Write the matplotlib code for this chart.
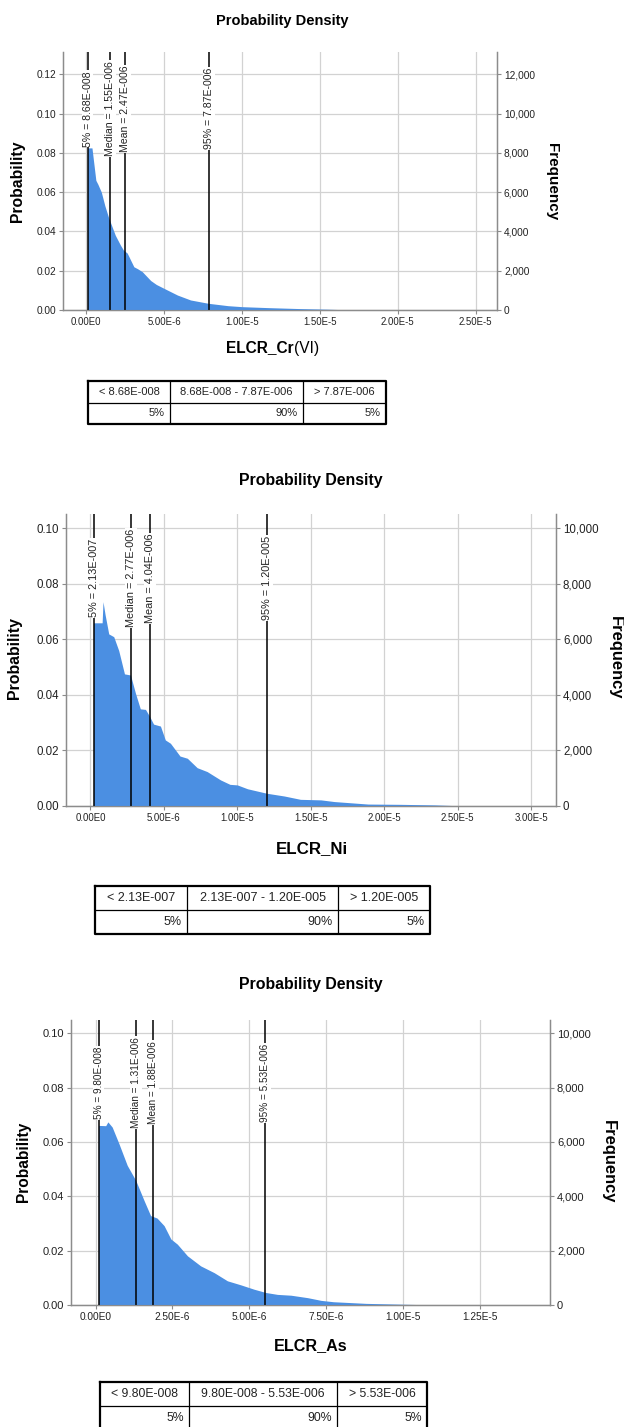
import numpy as np
import matplotlib
matplotlib.use("Agg")
import matplotlib.pyplot as plt
from matplotlib.transforms import blended_transform_factory

plt.rcParams["font.family"] = ["Liberation Sans", "DejaVu Sans"]

W, H = 624, 1427

# ── Data (x in units of 1e-6, probability) ───────────────────────────────────
cr_x = [0.0868, 0.37, 0.62, 0.75, 0.97, 1.2, 1.44, 1.87, 2.2, 2.39, 2.63, 3.06,
        3.3, 3.6, 4.14, 4.5, 5.0, 5.86, 6.7, 7.85, 9.1, 10.0, 11.7, 13.8, 15.5, 17.2]
cr_p = [0.0825, 0.0825, 0.066, 0.064, 0.060, 0.053, 0.047, 0.038, 0.033, 0.0305,
        0.029, 0.022, 0.021, 0.0195, 0.015, 0.013, 0.011, 0.0076, 0.0051, 0.0034,
        0.0022, 0.0017, 0.0012, 0.0007, 0.0004, 0.0]

ni_x = [0.213, 0.80, 0.86, 1.0, 1.25, 1.59, 1.93, 2.32, 2.73, 3.07, 3.4, 3.75, 4.02,
        4.3, 4.77, 5.1, 5.45, 6.1, 6.6, 7.27, 7.95, 8.86, 9.5, 10.0, 10.7, 12.0,
        13.2, 14.3, 15.7, 16.6, 18.9, 21.1, 23.4, 25.0, 25.5]
ni_p = [0.066, 0.066, 0.0736, 0.069, 0.062, 0.061, 0.056, 0.0476, 0.0472, 0.0406,
        0.035, 0.0348, 0.0324, 0.0295, 0.0288, 0.0238, 0.0226, 0.018, 0.0172, 0.0138,
        0.0124, 0.0094, 0.0078, 0.0076, 0.0062, 0.0046, 0.0036, 0.0024, 0.0022,
        0.0016, 0.0007, 0.0006, 0.0004, 0.0001, 0.0]

as_x = [0.098, 0.33, 0.40, 0.54, 0.76, 1.03, 1.31, 1.58, 1.79, 2.0, 2.23, 2.45, 2.66,
        2.99, 3.42, 3.86, 4.29, 4.73, 5.16, 5.54, 5.92, 6.36, 6.9, 7.34, 7.74, 8.8,
        9.9, 11.2]
as_p = [0.0661, 0.066, 0.0674, 0.0655, 0.0594, 0.0514, 0.0458, 0.0384, 0.0329, 0.032,
        0.0292, 0.0243, 0.0224, 0.0181, 0.0144, 0.0119, 0.0089, 0.0074, 0.0058,
        0.0046, 0.0039, 0.0036, 0.0027, 0.0017, 0.0012, 0.0006, 0.0003, 0.0]

# marker values (x 1e-6): 5%, median, mean, 95%
cr_marks = [0.0868, 1.55, 2.47, 7.87]
ni_marks = [0.213, 2.77, 4.04, 12.0]
as_marks = [0.098, 1.31, 1.88, 5.53]
cr_mark_labels = ["5% = 8.68E-008", "Median = 1.55E-006", "Mean = 2.47E-006", "95% = 7.87E-006"]
ni_mark_labels = ["5% = 2.13E-007", "Median = 2.77E-006", "Mean = 4.04E-006", "95% = 1.20E-005"]
as_mark_labels = ["5% = 9.80E-008", "Median = 1.31E-006", "Mean = 1.88E-006", "95% = 5.53E-006"]

cr_xticks = [0, 5, 10, 15, 20, 25]
ni_xticks = [0, 5, 10, 15, 20, 25, 30]
as_xticks = [0, 2.5, 5, 7.5, 10, 12.5]
cr_xticklabels = ["0.00E0", "5.00E-6", "1.00E-5", "1.50E-5", "2.00E-5", "2.50E-5"]
ni_xticklabels = ["0.00E0", "5.00E-6", "1.00E-5", "1.50E-5", "2.00E-5", "2.50E-5", "3.00E-5"]
as_xticklabels = ["0.00E0", "2.50E-6", "5.00E-6", "7.50E-6", "1.00E-5", "1.25E-5"]

cr_table = [["< 8.68E-008", "8.68E-008 - 7.87E-006", "> 7.87E-006"], ["5%", "90%", "5%"]]
ni_table = [["< 2.13E-007", "2.13E-007 - 1.20E-005", "> 1.20E-005"], ["5%", "90%", "5%"]]
as_table = [["< 9.80E-008", "9.80E-008 - 5.53E-006", "> 5.53E-006"], ["5%", "90%", "5%"]]

TRIALS = 100000   # frequency = probability * trials

# ── Style ─────────────────────────────────────────────────────────────────────
C_FILL = "#4b8fe2"
C_GRID = "#d2d2d2"
C_SPINE = "#8c8c8c"
C_TEXT = "#222222"


def px_axes(fig, l, t, r, b):
    return fig.add_axes([l / W, 1 - b / H, (r - l) / W, (b - t) / H])


def draw_panel(fig, box, xs, ps, xlim, ymax, xticks, xticklabels, marks, mark_labels,
               xfs=6.8, yfs=7.5, mfs=7.5):
    l, t, r, b = box
    ax = px_axes(fig, l, t, r, b)
    ax.fill_between(xs, ps, 0, color=C_FILL, lw=0, zorder=3)
    ax.set_xlim(*xlim)
    ax.set_ylim(0, ymax)
    ax.set_xticks(xticks)
    ax.set_xticklabels(xticklabels)
    yt = np.arange(0, ymax + 1e-9, 0.02)
    ax.set_yticks(yt)
    ax.set_yticklabels([f"{v:.2f}" for v in yt])
    ax.grid(True, color=C_GRID, lw=0.9, zorder=0)
    ax.set_axisbelow(True)
    ax.spines["top"].set_visible(False)
    for s in ["left", "right", "bottom"]:
        ax.spines[s].set_color(C_SPINE)
        ax.spines[s].set_linewidth(1.0)
    ax.tick_params(length=3, color=C_SPINE, pad=2, labelcolor=C_TEXT)
    ax.tick_params(axis="x", labelsize=xfs)
    ax.tick_params(axis="y", labelsize=yfs)

    trans = blended_transform_factory(ax.transData, ax.transAxes)
    for xv, lab in zip(marks, mark_labels):
        ax.axvline(xv, color="black", lw=1.1, zorder=5)
        ax.text(xv, 0.78, lab, rotation=90, transform=trans, ha="center", va="center",
                fontsize=mfs, zorder=6, color=C_TEXT,
                bbox=dict(facecolor="white", edgecolor="none", pad=0.6))

    ax2 = ax.twinx()
    ax2.set_ylim(0, ymax * TRIALS)
    ft = np.arange(0, ymax * TRIALS + 1, 2000)
    ax2.set_yticks(ft)
    ax2.set_yticklabels([f"{int(v):,}" for v in ft])
    ax2.tick_params(length=3, color=C_SPINE, labelsize=yfs, pad=2, labelcolor=C_TEXT)
    ax2.spines["top"].set_visible(False)
    for s in ["left", "right", "bottom"]:
        ax2.spines[s].set_color(C_SPINE)
    return ax


def draw_table(fig, box, cells, col_edges, fs=8):
    l, t, r, b = box
    ax = px_axes(fig, l, t, r, b)
    ax.set_xlim(l, r)
    ax.set_ylim(b, t)
    ax.axis("off")
    mid = (t + b) / 2
    ax.plot([l, r, r, l, l], [t, t, b, b, t], color="black", lw=1.6, clip_on=False)
    ax.plot([l, r], [mid, mid], color="black", lw=0.9)
    edges = [l] + col_edges + [r]
    for xe in col_edges:
        ax.plot([xe, xe], [t, b], color="black", lw=0.9)
    for i in range(3):
        x0, x1 = edges[i], edges[i + 1]
        ax.text((x0 + x1) / 2, (t + mid) / 2, cells[0][i], ha="center", va="center",
                fontsize=fs, color=C_TEXT)
        ax.text(x1 - 5, (mid + b) / 2, cells[1][i], ha="right", va="center",
                fontsize=fs, color=C_TEXT)


fig = plt.figure(figsize=(W / 100, H / 100), dpi=100)
fig.patch.set_facecolor("white")

# ── Panel 1: Cr(VI) ───────────────────────────────────────────────────────────
fig.text(282 / W, 1 - 21 / H, "Probability Density", ha="center", va="center",
         fontsize=10.5, fontweight="bold")
draw_panel(fig, (63, 52, 497, 310), cr_x, cr_p, (-1.49, 26.38), 0.1313,
           cr_xticks, cr_xticklabels, cr_marks, cr_mark_labels,
           xfs=6.9, yfs=7.3, mfs=7.6)
fig.text(18 / W, 1 - 181 / H, "Probability", rotation=90, ha="center", va="center",
         fontsize=11.3, fontweight="bold")
fig.text(552 / W, 1 - 182 / H, "Frequency", rotation=-90, ha="center", va="center",
         fontsize=11, fontweight="bold")
fig.text(294 / W, 1 - 348 / H, "ELCR_Cr", ha="right", va="center",
         fontsize=11.2, fontweight="bold")
fig.text(294 / W, 1 - 348 / H, "(VI)", ha="left", va="center", fontsize=11.2)
draw_table(fig, (88, 381, 386, 424), cr_table, [170, 303], fs=8)

# ── Panel 2: Ni ───────────────────────────────────────────────────────────────
fig.text(311 / W, 1 - 481 / H, "Probability Density", ha="center", va="center",
         fontsize=11.4, fontweight="bold")
draw_panel(fig, (66, 514, 556, 806), ni_x, ni_p, (-1.66, 31.7), 0.1052,
           ni_xticks, ni_xticklabels, ni_marks, ni_mark_labels,
           xfs=6.9, yfs=8.3, mfs=7.8)
fig.text(15 / W, 1 - 658 / H, "Probability", rotation=90, ha="center", va="center",
         fontsize=11.4, fontweight="bold")
fig.text(615 / W, 1 - 658 / H, "Frequency", rotation=-90, ha="center", va="center",
         fontsize=11.9, fontweight="bold")
fig.text(312 / W, 1 - 849 / H, "ELCR_Ni", ha="center", va="center",
         fontsize=12.2, fontweight="bold")
draw_table(fig, (95, 886, 430, 934), ni_table, [187, 338], fs=9)

# ── Panel 3: As ───────────────────────────────────────────────────────────────
fig.text(311 / W, 1 - 984 / H, "Probability Density", ha="center", va="center",
         fontsize=11.4, fontweight="bold")
draw_panel(fig, (71, 1020, 550, 1305), as_x, as_p, (-0.80, 14.79), 0.1049,
           as_xticks, as_xticklabels, as_marks, as_mark_labels,
           xfs=7.3, yfs=8.0, mfs=7.2)
fig.text(24 / W, 1 - 1162 / H, "Probability", rotation=90, ha="center", va="center",
         fontsize=11.2, fontweight="bold")
fig.text(608 / W, 1 - 1162 / H, "Frequency", rotation=-90, ha="center", va="center",
         fontsize=11.9, fontweight="bold")
fig.text(311 / W, 1 - 1346 / H, "ELCR_As", ha="center", va="center",
         fontsize=11.6, fontweight="bold")
draw_table(fig, (100, 1382, 427, 1430), as_table, [189, 337], fs=8.8)

fig.savefig("out.png", dpi=100)
